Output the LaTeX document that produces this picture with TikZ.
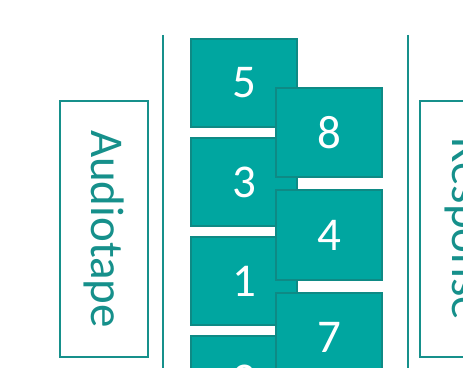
\documentclass[tikz,border=0pt]{standalone}
\usepackage{fontspec}
\setmainfont{Carlito}
\usepackage{xcolor}
\definecolor{TapeTeal}{HTML}{00A6A0}
\definecolor{TapeEdge}{HTML}{0E8A85}
\definecolor{TapeLine}{HTML}{16908B}
\usepackage{tikz}
\usetikzlibrary{positioning}
\tikzset{
  slot/.style={draw=TapeEdge,fill=TapeTeal,line width=2pt,minimum width=106pt,minimum height=88pt,inner sep=0pt,text=white,font=\fontsize{47}{50}\selectfont},
  slottall/.style={slot,minimum height=89pt},
  sidebox/.style={draw=TapeLine,fill=white,line width=2pt,rotate=-90,minimum width=256pt,minimum height=88pt,inner sep=0pt,text=TapeLine,font=\fontsize{47}{50}\selectfont},
  divider/.style={draw=TapeLine,line width=2pt}
}

\begin{document}
\begin{tikzpicture}[x=1pt,y=1pt,node distance=9pt]
  \useasboundingbox (0,0) rectangle (463,367);
  \clip (0,0) rectangle (463,367);
  \node[sidebox] (tape) at (104,138) {Audiotape};
  \node[sidebox] (response) at (464,138) {Response};
  \coordinate (ltop) at (162.5,332);
  \coordinate (lbot) at (162.5,-5);
  \coordinate (rtop) at (407.5,332);
  \coordinate (rbot) at (407.5,-5);
  \draw[divider] (ltop) -- (lbot);
  \draw[divider] (rtop) -- (rbot);
  % first column
  \node[slot] (five) at (244,284) {5};
  \node[slot,below=of five] (three) {3};
  \node[slot,below=of three] (one) {1};
  \node[slot,below=of one] (two) {2};
  % second column, laid over the first
  \node[slottall] (eight) at (329,234.5) {8};
  \node[slottall,below=11.5pt of eight] (four) {4};
  \node[slottall,below=11.5pt of four] (seven) {7};
\end{tikzpicture}
\end{document}
